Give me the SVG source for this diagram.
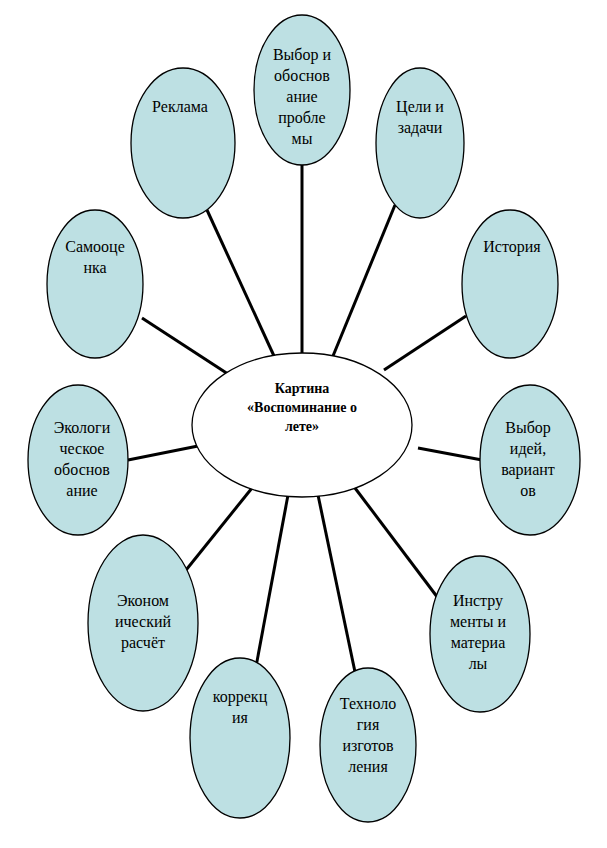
<svg xmlns="http://www.w3.org/2000/svg" width="607" height="848" viewBox="0 0 607 848" font-family="'Liberation Serif', 'Times New Roman', 'DejaVu Serif', serif">
<style>
.n{fill:#bde0e3;stroke:#000;stroke-width:1.3}
.c{fill:#fff;stroke:#000;stroke-width:1.3}
text{font-family:'Liberation Serif','Times New Roman','DejaVu Serif',serif;font-size:16px;text-anchor:middle}
.b{font-weight:bold;font-size:14px}
#edges line{stroke:#000;stroke-width:3}
</style>
<rect width="607" height="848" fill="#fff"/>
<g id="edges">
<line x1="302" y1="165" x2="302" y2="353"/>
<line x1="207" y1="210" x2="274" y2="356"/>
<line x1="395" y1="205" x2="333" y2="356"/>
<line x1="466" y1="316" x2="384" y2="370"/>
<line x1="142" y1="318" x2="228" y2="374"/>
<line x1="128" y1="460" x2="198" y2="446"/>
<line x1="418" y1="448" x2="482" y2="460"/>
<line x1="170" y1="590" x2="252" y2="488"/>
<line x1="438" y1="598" x2="355" y2="488"/>
<line x1="255" y1="672" x2="288" y2="495"/>
<line x1="355" y1="672" x2="318" y2="495"/>
</g>
<g id="n1"><ellipse class="n" cx="302" cy="90" rx="48" ry="75"/><text x="302" y="60">Выбор и</text><text x="302" y="81">обоснов</text><text x="302" y="102">ание</text><text x="302" y="123">пробле</text><text x="302" y="144">мы</text></g>
<g id="n2"><ellipse class="n" cx="183" cy="143" rx="52" ry="75"/><text x="180" y="112">Реклама</text></g>
<g id="n3"><ellipse class="n" cx="420" cy="143" rx="44" ry="75"/><text x="420" y="112">Цели и</text><text x="420" y="133">задачи</text></g>
<g id="n4"><ellipse class="n" cx="510" cy="284" rx="48" ry="74"/><text x="512" y="252">История</text></g>
<g id="n5"><ellipse class="n" cx="95" cy="284" rx="48" ry="74"/><text x="95" y="252">Самооце</text><text x="95" y="273">нка</text></g>
<g id="n6"><ellipse class="n" cx="78" cy="460" rx="50" ry="75"/><text x="82" y="433">Экологи</text><text x="82" y="454">ческое</text><text x="82" y="475">обоснов</text><text x="82" y="496">ание</text></g>
<g id="n7"><ellipse class="n" cx="530" cy="460" rx="50" ry="75"/><text x="528" y="433">Выбор</text><text x="528" y="454">идей,</text><text x="528" y="475">вариант</text><text x="528" y="496">ов</text></g>
<g id="n8"><ellipse class="n" cx="143" cy="623" rx="55" ry="88"/><text x="143" y="606">Эконом</text><text x="143" y="627">ический</text><text x="143" y="648">расчёт</text></g>
<g id="n9"><ellipse class="n" cx="480" cy="634" rx="50" ry="78"/><text x="478" y="606">Инстру</text><text x="478" y="627">менты и</text><text x="478" y="648">материа</text><text x="478" y="669">лы</text></g>
<g id="n10"><ellipse class="n" cx="240" cy="738" rx="50" ry="80"/><text x="240" y="702">коррекц</text><text x="240" y="723">ия</text></g>
<g id="n11"><ellipse class="n" cx="368" cy="745" rx="48" ry="77"/><text x="368" y="709">Техноло</text><text x="368" y="730">гия</text><text x="368" y="751">изготов</text><text x="368" y="772">ления</text></g>
<g id="center"><ellipse class="c" cx="302" cy="425" rx="110" ry="72"/><text class="b" x="302" y="393">Картина</text><text class="b" x="302" y="412">«Воспоминание о</text><text class="b" x="302" y="431">лете»</text></g>
</svg>
